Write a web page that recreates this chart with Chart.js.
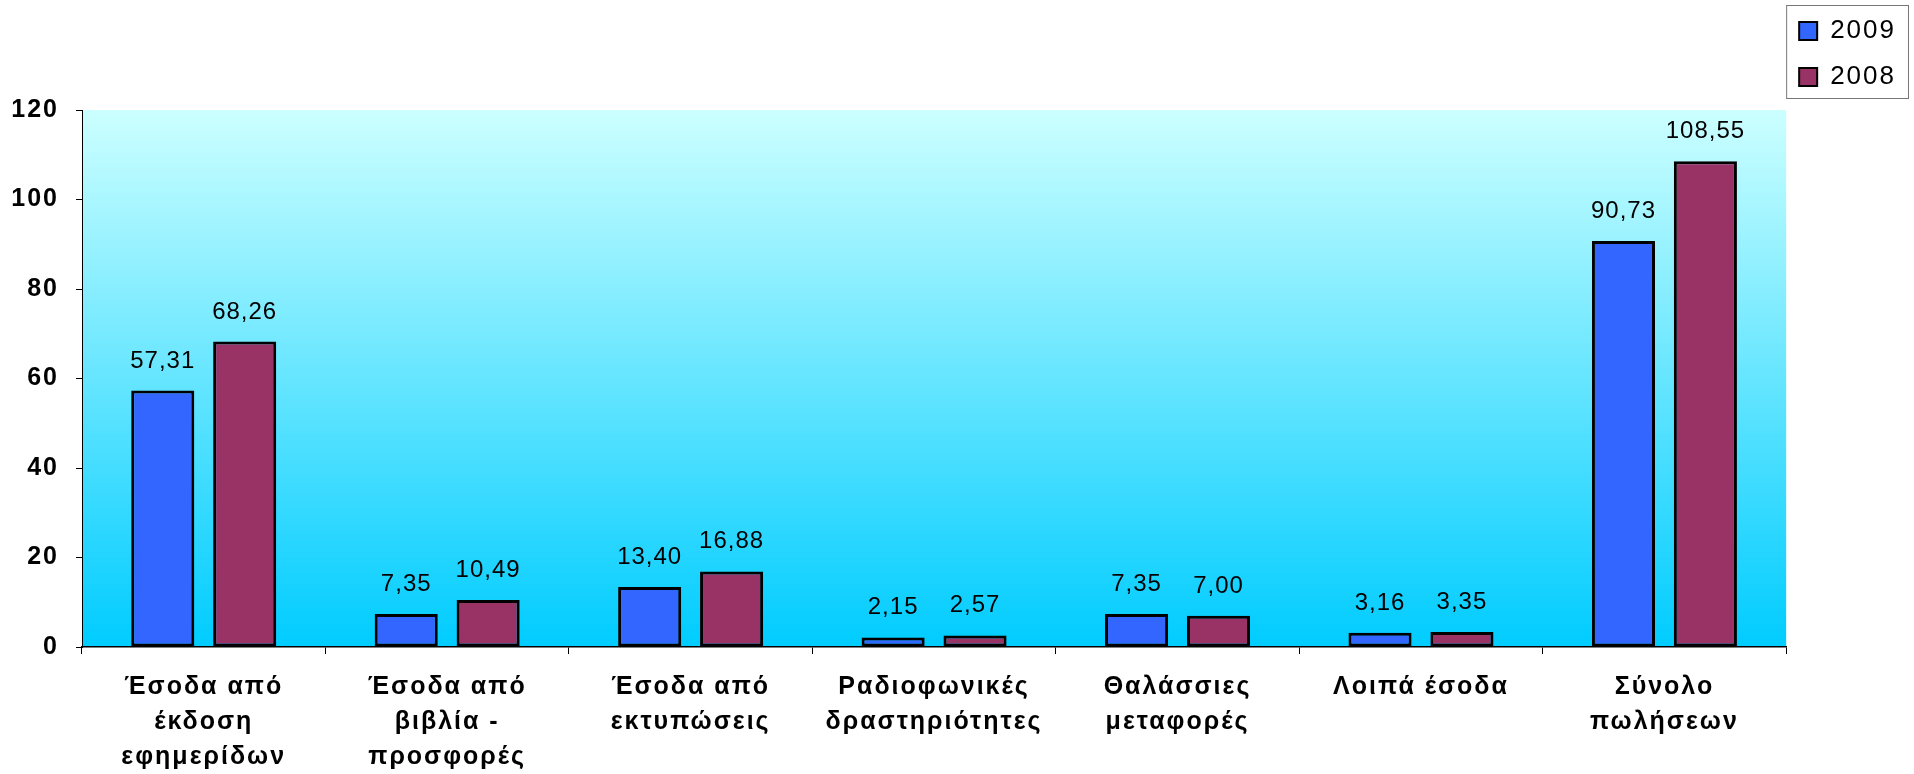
<!DOCTYPE html>
<html lang="el">
<head>
<meta charset="utf-8">
<title>Έσοδα 2009 - 2008</title>
<script src="https://cdn.jsdelivr.net/npm/chart.js@4.4.1/dist/chart.umd.min.js"></script>
<style>
  html, body { margin: 0; padding: 0; background: #fff; }
  #wrap { width: 1914px; height: 774px; }
</style>
</head>
<body>
<div id="wrap"><canvas id="chartEsoda"></canvas></div>
<script>
// κατηγορίες (πολλαπλές γραμμές όπως στο πρωτότυπο)
const kategories = [
    ["Έσοδα από", "έκδοση", "εφημερίδων"],
    ["Έσοδα από", "βιβλία -", "προσφορές"],
    ["Έσοδα από", "εκτυπώσεις"],
    ["Ραδιοφωνικές", "δραστηριότητες"],
    ["Θαλάσσιες", "μεταφορές"],
    ["Λοιπά έσοδα"],
    ["Σύνολο", "πωλήσεων"]
];
const etos2009 = [57.31, 7.35, 13.40, 2.15, 7.35, 3.16, 90.73];
const etos2008 = [68.26, 10.49, 16.88, 2.57, 7.00, 3.35, 108.55];
const etiketesSeiras = ["2009", "2008"];
const yTicks = [0, 20, 40, 60, 80, 100, 120];

const FONT = "'Liberation Sans', Arial, sans-serif";
Chart.defaults.font.family = FONT;
Chart.defaults.color = "#000";

// φόντο με διαβάθμιση στην περιοχή του γραφήματος
const fondo = {
    id: "fondo",
    beforeDraw(chart) {
        const {ctx, chartArea: a} = chart;
        const g = ctx.createLinearGradient(0, a.top, 0, a.bottom);
        g.addColorStop(0, "#CCFFFF");
        g.addColorStop(1, "#00CCFF");
        ctx.save();
        ctx.fillStyle = g;
        ctx.fillRect(a.left, a.top, a.right - a.left, a.bottom - a.top);
        ctx.restore();
        ctx.letterSpacing = "2px";
    },
    afterDraw(chart) {
        const ctx = chart.ctx;
        const lg = chart.legend;
        ctx.save();
        ctx.strokeStyle = "#777";
        ctx.lineWidth = 1;
        ctx.strokeRect(lg.left + 0.5, 5.5, chart.width - 6 - lg.left, 93);
        ctx.restore();
        ctx.letterSpacing = "0px";
    }
};

// ετικέτες τιμών πάνω από τις μπάρες
const timesPanw = {
    id: "timesPanw",
    afterDatasetsDraw(chart) {
        const ctx = chart.ctx;
        ctx.save();
        ctx.letterSpacing = "1px";
        ctx.font = "24px " + FONT;
        ctx.fillStyle = "#000";
        ctx.textAlign = "center";
        ctx.textBaseline = "alphabetic";
        chart.data.datasets.forEach((ds, i) => {
            chart.getDatasetMeta(i).data.forEach((bar, j) => {
                ctx.fillText(ds.data[j].toFixed(2).replace(".", ","), bar.x, bar.y - 23);
            });
        });
        ctx.restore();
    }
};

new Chart(document.getElementById("chartEsoda"), {
    type: "bar",
    data: {
        labels: kategories,
        datasets: [
            { label: etiketesSeiras[0], data: etos2009, backgroundColor: "#3366FF" },
            { label: etiketesSeiras[1], data: etos2008, backgroundColor: "#993366" }
        ]
    },
    options: {
        responsive: true,
        maintainAspectRatio: false,
        animation: false,
        events: [],
        layout: { padding: { top: 5, right: 16, bottom: 0, left: 0 } },
        datasets: {
            bar: {
                categoryPercentage: 0.673,
                barPercentage: 0.77,
                borderColor: "#000",
                borderWidth: 3,
                borderSkipped: false
            }
        },
        scales: {
            x: {
                grid: { drawOnChartArea: false, tickLength: 7, color: "#000", offset: true },
                border: { color: "#000", width: 1.5 },
                ticks: {
                    font: { size: 25, weight: "bold", lineHeight: 35 / 25 },
                    color: "#000",
                    padding: 16,
                    autoSkip: false,
                    maxRotation: 0
                },
                afterFit(scale) { scale.height = 127; }
            },
            y: {
                min: yTicks[0],
                max: yTicks[yTicks.length - 1],
                afterBuildTicks(scale) { scale.ticks = yTicks.map(v => ({ value: v })); },
                ticks: { font: { size: 25, weight: "bold" }, color: "#000", padding: 17 },
                grid: { drawOnChartArea: false, tickLength: 6, color: "#000" },
                border: { color: "#000", width: 1 },
                afterFit(scale) { scale.width = 82; }
            }
        },
        plugins: {
            title: { display: true, text: "", padding: { top: 0, bottom: 81 }, font: { size: 20 } },
            tooltip: { enabled: false },
            legend: {
                position: "right",
                align: "start",
                labels: {
                    boxWidth: 18,
                    boxHeight: 18,
                    padding: 13,
                    color: "#000",
                    font: { size: 26, lineHeight: 33 / 26 },
                    generateLabels(chart) {
                        return Chart.defaults.plugins.legend.labels.generateLabels(chart)
                            .map(l => Object.assign(l, { text: [l.text], lineWidth: 2 }));
                    }
                }
            }
        }
    },
    plugins: [fondo, timesPanw]
});
</script>
</body>
</html>
